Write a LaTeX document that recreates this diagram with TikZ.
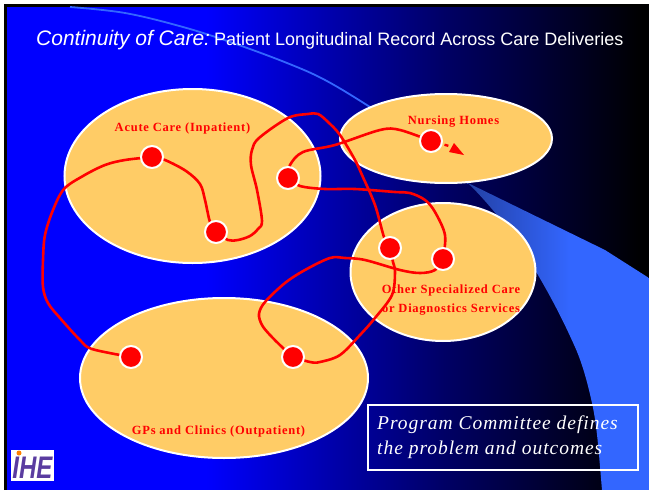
\documentclass[tikz,border=0pt]{standalone}
\usepackage{fontspec}
\usetikzlibrary{shapes.geometric}
\setmainfont{Liberation Serif}
\newfontfamily\titlefont{Liberation Sans}
\newfontfamily\labelfont[LetterSpace=6]{Liberation Serif}
\newfontfamily\boxfont[LetterSpace=5]{Liberation Serif}
\pgfdeclarelayer{bg}
\pgfdeclarelayer{mid}
\pgfsetlayers{bg,mid,main}
\definecolor{slide}{RGB}{0,0,255}
\definecolor{slideb}{RGB}{0,0,175}
\definecolor{slidec}{RGB}{0,0,100}
\definecolor{slided}{RGB}{0,0,50}
\definecolor{wedge}{RGB}{51,102,255}
\definecolor{wedged}{RGB}{35,65,165}
\definecolor{oval}{RGB}{255,204,102}
\definecolor{ihe}{RGB}{90,60,160}
\pgfdeclarehorizontalshading{slidesh}{100bp}{color(0bp)=(slide);color(40.5bp)=(slide);color(49.8bp)=(slideb);color(59.2bp)=(slidec);color(66.9bp)=(slided);color(74.5bp)=(black);color(100bp)=(black)}
\pgfdeclarehorizontalshading{wedgesh}{100bp}{color(0bp)=(wedged);color(25bp)=(wedged);color(53bp)=(wedge);color(100bp)=(wedge)}
\tikzset{
  x=1pt,y=-1pt,
  region/.style={ellipse,draw=white,line width=2pt,fill=oval,inner sep=0pt},
  visit/.style={circle,draw=white,line width=2pt,fill=red,minimum size=22pt,inner sep=0pt},
  conn/.style={draw=red,line width=2.6pt,line join=round,smooth,tension=0.55},
  place/.style={text=red,font=\labelfont\bfseries\fontsize{12.5}{19}\selectfont,align=center,inner sep=0pt},
}
\begin{document}
\begin{tikzpicture}
\useasboundingbox (0,0) rectangle (649,490);
\begin{pgfonlayer}{bg}
  \fill[white] (0,0) rectangle (649,490);
  \fill[black] (4,4) rectangle (649,490);
  \shade[shading=slidesh] (7,7) rectangle (649,490);
  \draw[wedge,line width=1.8pt,smooth,tension=0.6] plot coordinates {(70,7) (125,13) (183,27) (233,43) (287,63) (325,80) (370,107) (420,140) (468,183)};
  \shade[shading=wedgesh] (468,183) -- (605,250) -- (649,278) -- (649,490) -- (602,490)
     .. controls (599,455) and (597,425) .. (592,403)
     .. controls (588,385) and (583,365) .. (575,347)
     .. controls (563,320) and (550,295) .. (535,270)
     .. controls (520,245) and (500,215) .. (468,183) -- cycle;
  \node[region,minimum width=256pt,minimum height=174pt] (acuteoval) at (192.5,176) {};
  \node[region,minimum width=212pt,minimum height=89pt] (nursingoval) at (446,138.5) {};
  \node[region,minimum width=185pt,minimum height=138pt] (otheroval) at (443,272) {};
  \node[region,minimum width=288pt,minimum height=160pt] (gpsoval) at (224,378) {};
  \fill[white] (11,450) rectangle (54,481);
\end{pgfonlayer}

\node[anchor=base west,text=white,inner sep=0pt,font=\titlefont\fontsize{21}{24}\selectfont] (title) at (36,45) {\textit{Continuity of Care:}};
\node[anchor=base west,text=white,inner sep=0pt,font=\titlefont\fontsize{18}{22}\selectfont] (subtitle) at (214,45) {Patient Longitudinal Record Across Care Deliveries};

\node[place] (acute) at (182.5,128) {Acute Care (Inpatient)};
\node[place] (nursing) at (453.5,122) {Nursing Homes};
\node[place] (other) at (451,300) {Other Specialized Care\\or Diagnostics Services};
\node[place] (gps) at (218.5,431) {GPs and Clinics (Outpatient)};

\node[visit] (a1) at (152,157) {};
\node[visit] (a2) at (216,232) {};
\node[visit] (a3) at (288,178) {};
\node[visit] (n1) at (431,141) {};
\node[visit] (o1) at (390,248) {};
\node[visit] (o2) at (443,259) {};
\node[visit] (g1) at (131,357) {};
\node[visit] (g2) at (293,357) {};
\coordinate (tipend) at (464,155);

\begin{pgfonlayer}{mid}
  \draw[conn] plot coordinates {(g1.center) (92,349) (80,340) (60,318) (48,303) (43,287) (43,260) (45,235) (53,210) (64,189) (83,176) (105,165) (125,160) (a1.center)};
  \draw[conn] plot coordinates {(a1.center) (165,160) (186,171) (200,184) (205,200) (210,222) (a2.center)};
  \draw[conn] plot coordinates {(a2.center) (228,240) (238,240) (250,236) (258,229) (262,221) (257,190) (251,165) (252,150) (259,138) (288,118) (308,114) (318,114) (328,122) (340,135) (355,160) (362,175) (375,205) (384,237) (o1.center)};
  \draw[conn] plot coordinates {(a3.center) (290,165) (303,152) (335,145) (380,130) (400,130) (n1.center)};
  \draw[conn] plot coordinates {(a3.center) (300,186) (325,189) (355,189) (395,192) (410,193) (425,200) (435,212) (445,235) (o2.center)};
  \draw[conn] plot coordinates {(o1.center) (393,262) (395,272) (392,295) (375,318) (360,335) (340,355) (320,362) (310,362) (g2.center)};
  \draw[conn] plot coordinates {(g2.center) (283,348) (270,335) (262,325) (259,314) (265,302) (285,283) (305,270) (330,258) (345,258) (365,260) (400,270) (420,273) (435,270) (o2.center)};
  \draw[red,line width=2.4pt,dash pattern=on 4pt off 3pt] (n1.center) -- (449,146);
  \fill[red] (tipend) -- (449,152) -- (454,143) -- cycle;
\end{pgfonlayer}

\node[draw=white,line width=2pt,minimum width=270pt,minimum height=65pt,inner sep=0pt] (note) at (503,437.5) {};
\node[anchor=west,text=white,inner sep=0pt,align=left,font=\boxfont\itshape\fontsize{19.5}{24.5}\selectfont] (notetext) at (377,437) {Program Committee defines\\the problem and outcomes};

\node[text=ihe,inner sep=0pt,font=\titlefont\bfseries\itshape\fontsize{24}{24}\selectfont,yscale=1.3] (logo) at (32.5,467.5) {IHE};
\fill[orange] (19,453) circle (2.5);
\end{tikzpicture}
\end{document}
